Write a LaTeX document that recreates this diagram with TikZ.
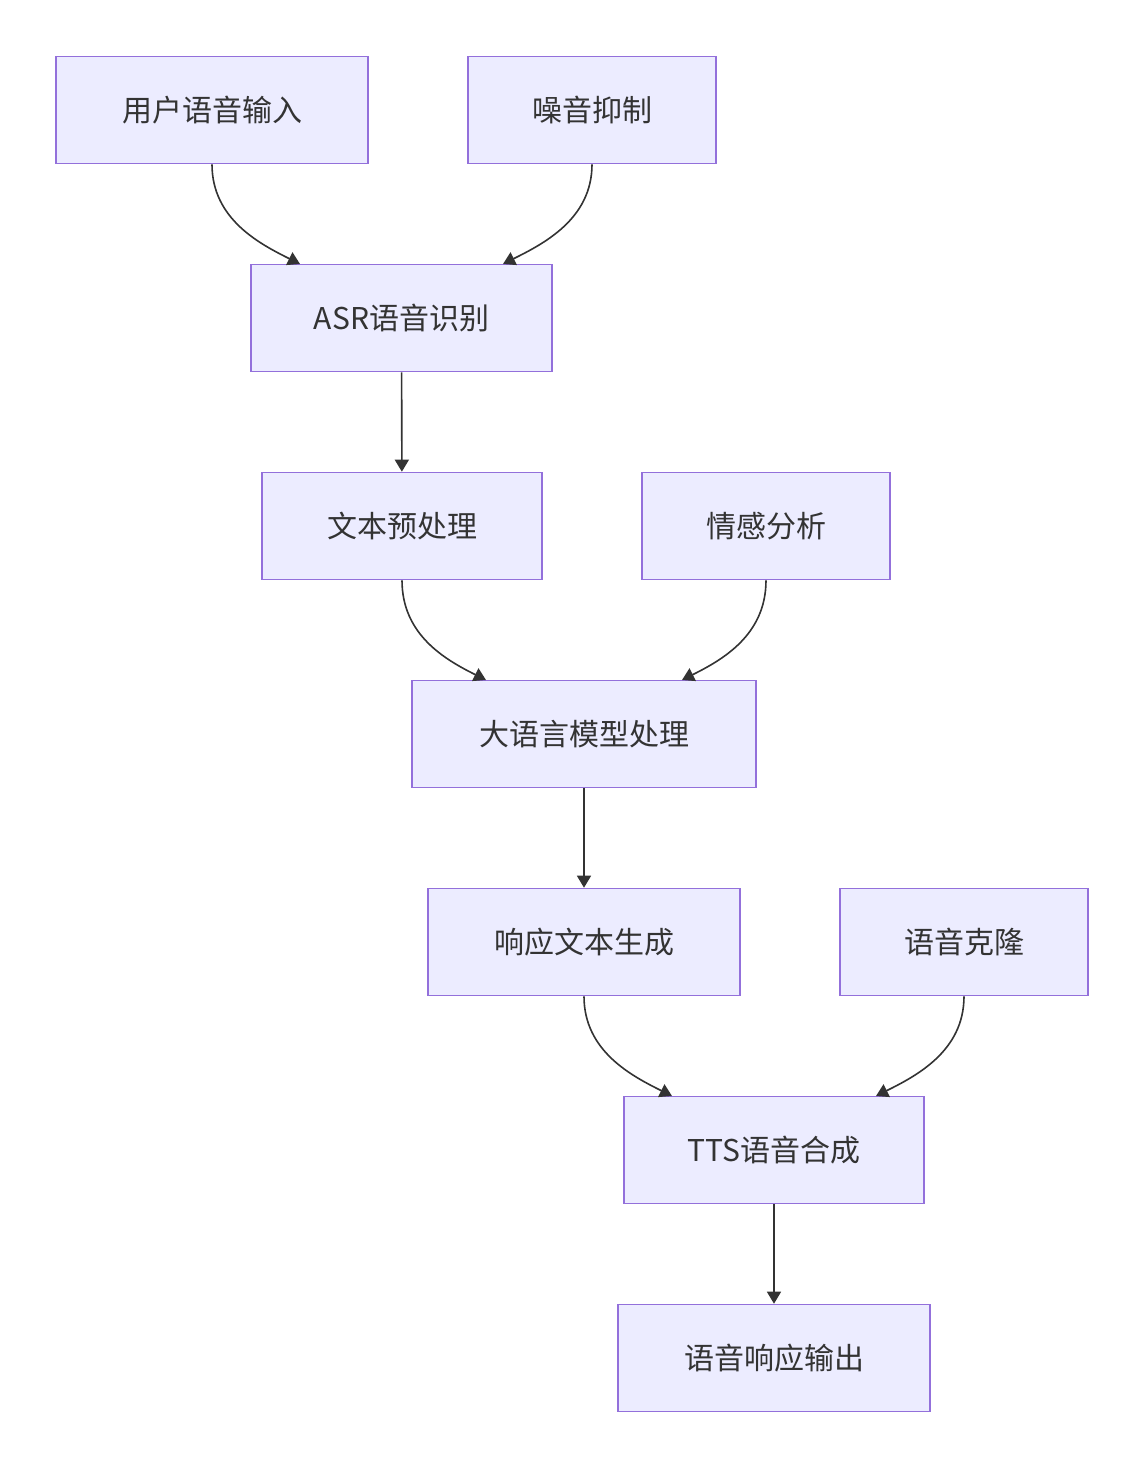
\documentclass[tikz,border=0pt]{standalone}
\usepackage{fontspec}
\setmainfont{Noto Sans CJK SC}
\usetikzlibrary{arrows.meta}
\definecolor{boxfill}{HTML}{ECECFF}
\definecolor{boxline}{HTML}{9370DB}
\definecolor{edgecol}{HTML}{333333}
\tikzset{
  box/.style={draw=boxline, fill=boxfill, line width=0.8pt, minimum height=53.5pt,
    inner sep=0pt, font=\fontsize{15}{18}\selectfont, text=edgecol},
  flow/.style={draw=edgecol, line width=0.8pt, -{Triangle[length=6pt,width=7pt]}}
}
\begin{document}
\begin{tikzpicture}[x=0.5pt,y=-0.5pt]
\useasboundingbox (0,0) rectangle (1144,1468);
% nodes
\node[box, minimum width=156pt] (voice) at (212,110) {用户语音输入};
\node[box, minimum width=124pt] (noise) at (592,110) {噪音抑制};
\node[box, minimum width=150.5pt] (asr) at (401.5,318) {ASR语音识别};
\node[box, minimum width=140pt] (prep) at (402,526) {文本预处理};
\node[box, minimum width=124pt] (emo) at (766,526) {情感分析};
\node[box, minimum width=172pt] (llm) at (584,734) {大语言模型处理};
\node[box, minimum width=156pt] (resp) at (584,942) {响应文本生成};
\node[box, minimum width=124pt] (clone) at (964,942) {语音克隆};
\node[box, minimum width=150pt] (tts) at (774,1150) {TTS语音合成};
\node[box, minimum width=156pt] (out) at (774,1358) {语音响应输出};
% edges
\coordinate (asrL) at (300,264);
\coordinate (asrR) at (503,264);
\coordinate (llmL) at (486,680);
\coordinate (llmR) at (682,680);
\coordinate (ttsL) at (672,1096);
\coordinate (ttsR) at (876,1096);
\draw[flow] (voice.south) .. controls +(0,55) and +(-40,-20) .. (asrL);
\draw[flow] (noise.south) .. controls +(0,55) and +(40,-20) .. (asrR);
\draw[flow] (asr) -- (prep);
\draw[flow] (prep.south) .. controls +(0,55) and +(-40,-20) .. (llmL);
\draw[flow] (emo.south) .. controls +(0,55) and +(40,-20) .. (llmR);
\draw[flow] (llm) -- (resp);
\draw[flow] (resp.south) .. controls +(0,55) and +(-40,-20) .. (ttsL);
\draw[flow] (clone.south) .. controls +(0,55) and +(40,-20) .. (ttsR);
\draw[flow] (tts) -- (out);
\end{tikzpicture}
\end{document}
